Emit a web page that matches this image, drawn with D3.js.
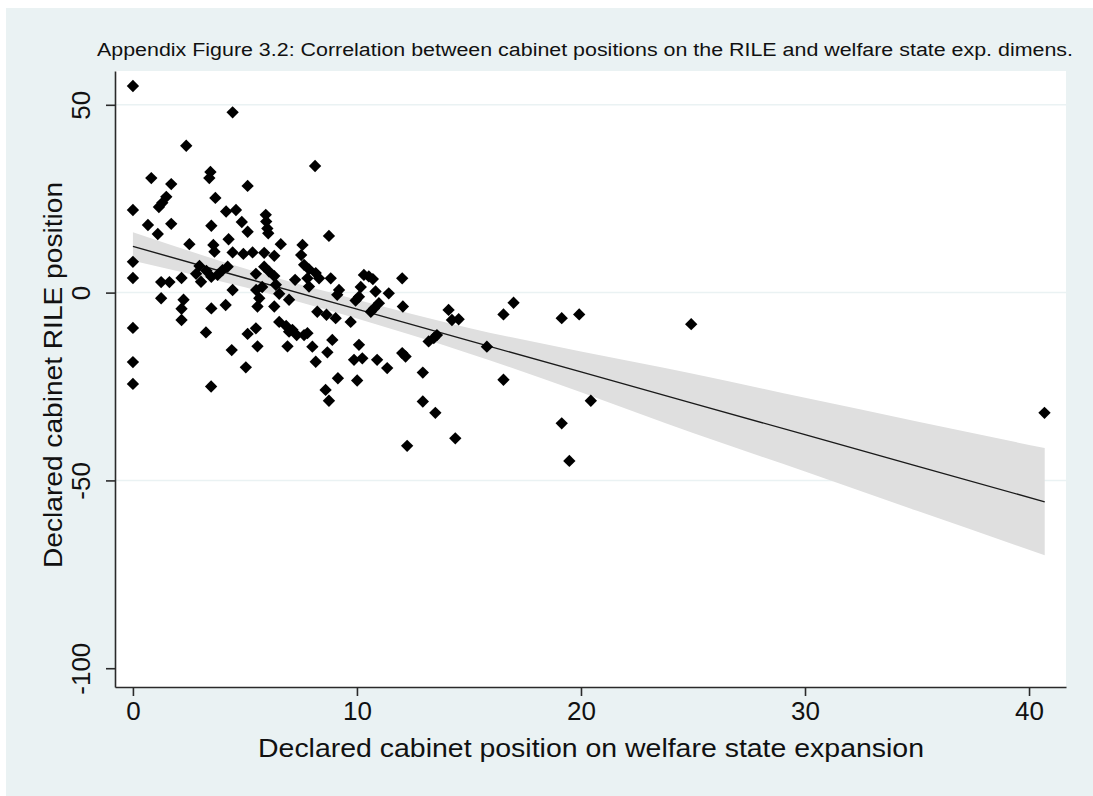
<!DOCTYPE html>
<html>
<head>
<meta charset="utf-8">
<script src="https://cdn.jsdelivr.net/npm/d3@7"></script>
<style>
  body { margin: 0; background: #ffffff; }
  text { font-family: "Liberation Sans", Arial, sans-serif; fill: #111; }
</style>
</head>
<body>
<div id="myVis"></div>
<script>

// scatter values
const welfareX = [
  0, 0, 0, 0, 0, 0, 0,
  0.82, 1.71, 2.38, 1.49, 1.31, 1.16, 0.67, 1.71, 1.11, 2.52, 1.26, 1.63, 2.17, 1.26, 2.26, 2.17, 2.17,
  3.46, 3.41, 3.68, 4.16, 4.6, 4.86, 5.12, 5.12, 4.45, 3.5, 4.27, 3.59, 3.64, 4.45, 4.93, 5.34, 5.86, 6.31, 6.6,
  2.97, 2.82, 3.04, 3.28, 3.5, 3.78, 4.0, 4.23, 4.45, 3.5, 4.14, 3.26, 4.41, 3.49, 5.04,
  5.93, 5.95, 6.0, 6.04, 5.49, 5.86, 6.08, 6.31, 5.77, 6.38, 5.5, 5.64, 5.56, 6.53, 6.31, 6.97,
  5.12, 5.49, 5.56, 6.53, 6.84, 7.12, 7.31, 6.97, 7.64, 7.79, 6.9,
  7.57, 7.51, 7.64, 7.86, 8.16, 8.31, 7.79, 7.86, 7.24, 8.83, 8.13, 8.75, 9.2, 9.12,
  8.23, 8.64, 9.05, 9.72, 8.01, 8.9, 8.68, 8.16, 8.6, 8.75, 9.15,
  10.31, 10.53, 10.71, 10.17, 10.09, 9.94, 10.83, 11.42, 12.02, 10.98, 10.76, 10.62, 12.05,
  10.09, 9.87, 10.24, 10.9, 11.35, 12.02, 12.17, 10.01, 12.24,
  12.94, 12.94, 13.5, 14.39, 14.09, 14.24, 14.54, 13.2, 13.43, 13.57,
  15.8, 16.99, 16.54, 16.54, 19.14, 19.92, 24.92, 20.44, 19.14, 19.48, 40.69
]
const rileY = [
  55.0, 22.0, 8.2, 3.9, -9.4, -18.5, -24.3,
  30.5, 28.9, 39.1, 25.5, 23.9, 22.8, 18.0, 18.3, 15.6, 12.9, 2.8, 2.8, 3.9, -1.5, -1.9, -4.3, -7.3,
  32.1, 30.5, 25.2, 21.6, 22.0, 18.8, 16.2, 28.4, 48.0, 17.8, 14.2, 12.7, 10.9, 10.7, 10.3, 10.7, 10.6, 9.8, 12.9,
  7.1, 5.0, 2.9, 5.8, 4.2, 4.7, 6.0, 6.9, 0.7, -4.2, -3.3, -10.6, -15.3, -25.0, -19.9,
  20.7, 18.9, 17.1, 15.8, 5.0, 6.9, 5.6, 4.4, 1.5, 2.1, 0.7, -1.5, -3.7, -0.3, -3.7, -1.9,
  -11.0, -9.5, -14.3, -7.8, -8.9, -9.9, -11.3, -10.4, -11.3, -10.8, -14.3,
  12.7, 10.0, 7.4, 6.2, 5.2, 3.8, 3.8, 1.6, 3.4, 3.8, 33.7, 15.1, 0.7, -0.6,
  -5.1, -5.9, -6.8, -7.8, -14.4, -12.6, -15.9, -18.4, -25.9, -28.8, -22.8,
  4.7, 4.3, 3.6, 1.5, -1.1, -2.1, 0.3, -0.2, 3.8, -2.8, -4.2, -5.1, -3.7,
  -13.9, -17.9, -17.5, -17.9, -20.1, -16.1, -17.0, -23.4, -40.8,
  -21.3, -29.0, -32.0, -38.8, -4.6, -7.3, -7.1, -13.0, -12.1, -11.3,
  -14.4, -2.7, -5.8, -23.2, -6.8, -5.8, -8.4, -28.8, -34.8, -44.8, -32.0
]

// fitted line and 95% band
const bandX = [0, 5, 10, 15, 20, 25, 30, 35, 40.7]
const bandFit = [12.3, 3.9, -4.4, -12.8, -21.1, -29.5, -37.8, -46.2, -55.7]
const bandHi = [16.1, 6.4, -1.9, -9.4, -15.7, -21.6, -28.0, -34.3, -41.4]
const bandLo = [8.5, 1.4, -6.9, -16.2, -26.5, -37.4, -47.6, -58.1, -69.9]

const xTicks = [0, 10, 20, 30, 40]
const yTicks = [-100, -50, 0, 50]
const yGrid = [-50, 0, 50]

const titleText = "Appendix Figure 3.2: Correlation between cabinet positions on the RILE and welfare state exp. dimens."
const xTitle = "Declared cabinet position on welfare state expansion"
const yTitle = "Declared cabinet RILE position"

var W = 1093, H = 796
var plot = {left: 115, right: 1066, top: 71, bottom: 687}

const points = welfareX.map((x, i) => ({x: x, y: rileY[i]}))
const band = bandX.map((x, i) => ({x: x, fit: bandFit[i], hi: bandHi[i], lo: bandLo[i]}))

const svg = d3.select("#myVis")
    .append("svg")
        .attr("width", W)
        .attr("height", H)

// graph region
svg.append("rect")
    .attr("x", 6).attr("y", 8)
    .attr("width", W - 6).attr("height", H - 8)
    .attr("fill", "#eaf2f3")

svg.append("rect")
    .attr("x", plot.left).attr("y", plot.top)
    .attr("width", plot.right - plot.left).attr("height", plot.bottom - plot.top)
    .attr("fill", "#ffffff")

var xScale = d3.scaleLinear()
    .domain([-0.8, 41.65])
    .range([plot.left, plot.right])

var yScale = d3.scaleLinear()
    .domain([-105, 59])
    .range([plot.bottom, plot.top])

// grid lines
svg.append("g")
    .selectAll("line")
    .data(yGrid)
    .enter()
    .append("line")
        .attr("x1", plot.left).attr("x2", plot.right)
        .attr("y1", d => yScale(d)).attr("y2", d => yScale(d))
        .attr("stroke", "#eaf2f3")
        .attr("stroke-width", 1.5)

// confidence band
var area = d3.area()
    .x(d => xScale(d.x))
    .y0(d => yScale(d.lo))
    .y1(d => yScale(d.hi))
    .curve(d3.curveMonotoneX)

svg.append("path")
    .datum(band)
    .attr("d", area)
    .attr("fill", "#dfdfdf")

var line = d3.line()
    .x(d => xScale(d.x))
    .y(d => yScale(d.fit))

svg.append("path")
    .datum(band)
    .attr("d", line)
    .attr("fill", "none")
    .attr("stroke", "#1a1a1a")
    .attr("stroke-width", 1.4)

// points
var diamond = d3.symbol().type(d3.symbolSquare).size(76)

svg.append("g")
    .selectAll("path")
    .data(points)
    .enter()
    .append("path")
        .attr("d", diamond)
        .attr("transform", d => "translate(" + xScale(d.x) + "," + yScale(d.y) + ") rotate(45)")
        .attr("fill", "#000")

// axes (plain hyphen for negatives, like the original)
var fmt = d => String(d)

var xAxis = svg.append("g")
    .attr("transform", "translate(0," + plot.bottom + ")")
    .call(d3.axisBottom(xScale).tickValues(xTicks).tickFormat(fmt).tickSize(9).tickPadding(6).tickSizeOuter(0))

var yAxis = svg.append("g")
    .attr("transform", "translate(" + plot.left + ",0)")
    .call(d3.axisLeft(yScale).tickValues(yTicks).tickFormat(fmt).tickSize(9).tickSizeOuter(0))

xAxis.select(".domain").attr("stroke", "#2a2a2a").attr("stroke-width", 1.6)
yAxis.select(".domain").attr("stroke", "#2a2a2a").attr("stroke-width", 1.6)
xAxis.selectAll(".tick line").attr("stroke", "#2a2a2a").attr("stroke-width", 1.6)
yAxis.selectAll(".tick line").attr("stroke", "#2a2a2a").attr("stroke-width", 1.6)

xAxis.selectAll(".tick text")
    .attr("font-size", 26)
    .attr("font-family", "Liberation Sans, Arial, sans-serif")
    .attr("fill", "#111")

// y labels stand on end like the original
yAxis.selectAll(".tick text")
    .attr("font-size", 26)
    .attr("font-family", "Liberation Sans, Arial, sans-serif")
    .attr("fill", "#111")
    .attr("x", 0)
    .attr("dy", 0)
    .attr("text-anchor", "middle")
    .attr("transform", "translate(-25,0) rotate(-90)")

// titles
svg.append("text")
    .attr("x", 585)
    .attr("y", 56)
    .attr("text-anchor", "middle")
    .attr("font-size", 18)
    .attr("textLength", 976)
    .attr("lengthAdjust", "spacingAndGlyphs")
    .text(titleText)

svg.append("text")
    .attr("x", 591)
    .attr("y", 757)
    .attr("text-anchor", "middle")
    .attr("font-size", 25)
    .attr("textLength", 666)
    .attr("lengthAdjust", "spacingAndGlyphs")
    .text(xTitle)

svg.append("text")
    .attr("transform", "translate(62,375) rotate(-90)")
    .attr("text-anchor", "middle")
    .attr("font-size", 25)
    .attr("textLength", 386)
    .attr("lengthAdjust", "spacingAndGlyphs")
    .text(yTitle)

</script>
</body>
</html>
